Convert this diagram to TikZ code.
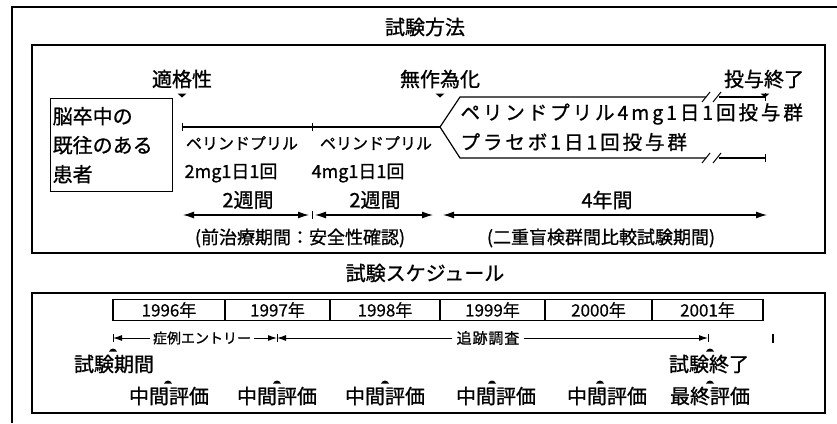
\documentclass[tikz,border=0pt]{standalone}
\usepackage{fontspec}
\setmainfont{Noto Sans CJK JP}[FakeBold=1]
\newfontfamily\yearfont{Noto Sans CJK JP}[FakeBold=0.4]
\usetikzlibrary{arrows.meta}
\tikzset{
  fbig/.style={font=\fontsize{20}{29}\selectfont},
  fmid/.style={font=\fontsize{18}{24}\selectfont},
  fyear/.style={font=\yearfont\fontsize{17}{20}\selectfont},
  fsmall/.style={font=\fontsize{16}{20}\selectfont},
  ftiny/.style={font=\fontsize{14}{18}\selectfont},
  fgroup/.style={font=\fontsize{19.5}{29}\selectfont\addfontfeature{LetterSpace=15}},
  frame/.style={draw, line width=1.6pt, inner sep=0pt},
  yearbox/.style={draw, line width=1.2pt, minimum height=21pt, inner sep=0pt, fyear},
  tl/.style={line width=1.2pt},
  bigarrow/.style={line width=1.2pt, {Latex[length=11pt,width=7pt]}-{Latex[length=11pt,width=7pt]}},
  smallL/.style={line width=1pt, {Latex[length=9pt,width=6pt]}-},
  smallR/.style={line width=1pt, -{Latex[length=9pt,width=6pt]}},
  downmark/.pic={\fill (-4.5,-1.5)--(4.5,-1.5)--(0,2.5)--cycle;},
  upmark/.pic={\fill (-4,1.5)..controls (-2,-2.5) and (2,-2.5)..(4,1.5)--cycle;},
  tick/.pic={\draw[line width=1pt] (0,-4)--(0,4);}
}
\begin{document}
\begin{tikzpicture}[x=1pt,y=-1pt]
\useasboundingbox (0,0) rectangle (837,423);
% outer frame (open at right and bottom)
\draw[line width=2pt] (12,423) -- (12,7) -- (837,7);
% titles
\node[fbig] (t1) at (425,27) {試験方法};
\node[fbig] (t2) at (425,273) {試験スケジュール};
% frames
\node[frame, minimum width=793pt, minimum height=208pt] (f1) at (428.5,149) {};
\node[frame, minimum width=793pt, minimum height=120pt] (f2) at (428.5,353) {};

% ---------- top frame ----------
\node[fbig] (elig) at (182,79) {適格性};
\node[fbig] (rand) at (440,79) {無作為化};
\node[fbig] (endd) at (764,79) {投与終了};
\pic at (182,95) {downmark};
\pic at (440,95) {downmark};
\pic at (765,95) {downmark};

\node[draw, line width=1.4pt, fbig, align=left, anchor=north west, minimum width=122pt, minimum height=93pt, inner xsep=2pt, inner ysep=3pt, text width=118pt] (pat) at (50,98) {脳卒中の\\既往のある\\患者};

% run-in timeline
\coordinate (r0) at (182,127);
\coordinate (r1) at (312,127);
\coordinate (fork) at (440,127);
\coordinate (up0) at (460,97);
\coordinate (lo0) at (460,158);
\coordinate (up1) at (706,97);
\coordinate (lo1) at (706,158);
\coordinate (up2) at (719,97);
\coordinate (lo2) at (719,158);
\coordinate (up3) at (765,97);
\coordinate (lo3) at (765,158);
\draw[tl] (r0) -- (r1) -- (fork);
\draw[tl] (up1) -- (up0) -- (fork) -- (lo0) -- (lo1);
\draw[tl] (up2) -- (up3);
\draw[tl] (lo2) -- (lo3);
\pic at (r0) {tick};
\pic at (r1) {tick};
\pic at (up3) {tick};
\pic at (lo3) {tick};
% break marks
\draw[line width=1pt] (702,102) -- (710,92) (713,102) -- (721,92);
\draw[line width=1pt] (702,163) -- (710,153) (713,163) -- (721,153);

\node[fsmall] (p1) at (242,143) {ペリンドプリル};
\node[fsmall] (p2) at (376,143) {ペリンドプリル};
\node[fmid] (d1) at (231,173) {2mg1日1回};
\node[fmid] (d2) at (358,173) {4mg1日1回};
\node[fgroup, anchor=west] (g1) at (457,114) {ペリンドプリル4mg1日1回投与群};
\node[fgroup, anchor=west] (g2) at (457,142) {プラセボ1日1回投与群};

\node[fbig] (w1) at (248,200) {2週間};
\node[fbig] (w2) at (375,200) {2週間};
\node[fbig] (w3) at (607,200) {4年間};

\coordinate (a1l) at (183,215);
\coordinate (a1r) at (309,215);
\coordinate (a2l) at (315,215);
\coordinate (a2r) at (433,215);
\coordinate (a3l) at (443,215);
\coordinate (a3r) at (767,215);
\coordinate (atk) at (312,215);
\draw[bigarrow] (a1l) -- (a1r);
\draw[bigarrow] (a2l) -- (a2r);
\draw[bigarrow] (a3l) -- (a3r);
\pic at (atk) {tick};

\node[fmid] (n1) at (300,238) {(前治療期間：安全性確認)};
\node[fmid] (n2) at (601,238) {(二重盲検群間比較試験期間)};

% ---------- bottom frame ----------
\node[yearbox, minimum width=112pt] (y1) at (169,310) {1996年};
\node[yearbox, minimum width=105pt] (y2) at (277.5,310) {1997年};
\node[yearbox, minimum width=110pt] (y3) at (385,310) {1998年};
\node[yearbox, minimum width=105pt] (y4) at (492.5,310) {1999年};
\node[yearbox, minimum width=107pt] (y5) at (598.5,310) {2000年};
\node[yearbox, minimum width=111pt] (y6) at (707.5,310) {2001年};

\coordinate (b0) at (113,338);
\coordinate (b1) at (277,338);
\coordinate (b2) at (708,338);
\coordinate (b3) at (773,338);
\node[ftiny, inner xsep=3pt, inner ysep=0pt] (entry) at (202,338) {症例エントリー};
\node[inner xsep=4pt, inner ysep=0pt, font=\fontsize{15}{18}\selectfont\addfontfeature{LetterSpace=6}] (follow) at (488,338) {追跡調査};
\draw[smallL] (b0) -- (entry.west);
\draw[smallR] (entry.east) -- (b1);
\draw[smallL] (b1) -- (follow.west);
\draw[smallR] (follow.east) -- (b2);
\pic at (b0) {tick};
\pic at (b1) {tick};
\pic at (b2) {tick};
\draw[line width=2pt] (773,334) -- (773,343);

\node[fbig] (s1) at (114,364) {試験期間};
\node[fbig] (s2) at (709,364) {試験終了};
\pic at (113,350) {upmark};
\pic at (710,350) {upmark};

\node[fbig] (e1) at (169,396) {中間評価};
\node[fbig] (e2) at (277,396) {中間評価};
\node[fbig] (e3) at (385,396) {中間評価};
\node[fbig] (e4) at (496,396) {中間評価};
\node[fbig] (e5) at (607,396) {中間評価};
\node[fbig] (e6) at (710,396) {最終評価};
\pic at (168,382) {upmark};
\pic at (277,382) {upmark};
\pic at (385,382) {upmark};
\pic at (492,382) {upmark};
\pic at (600,382) {upmark};
\pic at (710,382) {upmark};
\end{tikzpicture}
\end{document}
